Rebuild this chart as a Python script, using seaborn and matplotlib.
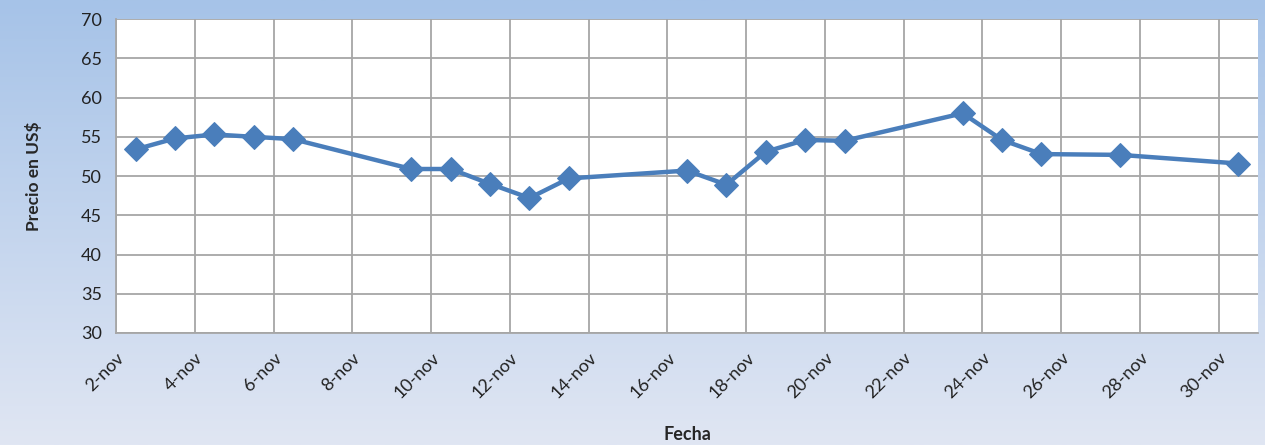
import numpy as np
import pandas as pd
import seaborn as sns
import matplotlib.pyplot as plt

# datos
fechas = ["2015-11-02", "2015-11-03", "2015-11-04", "2015-11-05", "2015-11-06",
          "2015-11-09", "2015-11-10", "2015-11-11", "2015-11-12", "2015-11-13",
          "2015-11-16", "2015-11-17", "2015-11-18", "2015-11-19", "2015-11-20",
          "2015-11-23", "2015-11-24", "2015-11-25", "2015-11-27", "2015-11-30"]
precios = [53.4, 54.8, 55.3, 55.0, 54.7,
           50.9, 50.9, 49.0, 47.2, 49.7,
           50.7, 48.9, 53.1, 54.6, 54.5,
           58.0, 54.6, 52.8, 52.7, 51.6]
tick_fechas = ["2015-11-%02d" % d for d in range(2, 31, 2)]
tick_labels = ["%d-nov" % d for d in range(2, 31, 2)]

df = pd.DataFrame({"Fecha": pd.to_datetime(fechas), "Precio": precios})
# Excel centra cada punto dentro de su dia
df["x"] = df["Fecha"] + pd.Timedelta(hours=12)

sns.set_style("white")
plt.rcParams["font.family"] = ["Lato", "DejaVu Sans"]

fig = plt.figure(figsize=(12.65, 4.45), dpi=100)

# fondo degradado
bg = fig.add_axes([0, 0, 1, 1], zorder=-1)
grad = np.linspace(0, 1, 256).reshape(-1, 1)
top = np.array([166, 195, 232]) / 255
bot = np.array([224, 230, 243]) / 255
img = top + (bot - top) * grad[..., None]
bg.imshow(img, aspect="auto", extent=[0, 1, 0, 1])
bg.axis("off")

ax = fig.add_axes([0.0917, 0.2517, 0.9028, 0.7053])
ax.set_facecolor("white")
sns.lineplot(data=df, x="x", y="Precio", ax=ax, color="#4a7ebb", linewidth=3.2,
             marker="D", markersize=12.5, markeredgecolor="#4a7ebb", zorder=3)

ax.set_ylim(30, 70)
ax.set_yticks(range(30, 71, 5))
ax.set_xlim(pd.Timestamp("2015-11-02"), pd.Timestamp("2015-12-01"))
ax.set_xticks(pd.to_datetime(tick_fechas))
ax.set_xticklabels(tick_labels, rotation=45, ha="right", rotation_mode="anchor")

ax.grid(True, color="#a6a6a6", linewidth=1.3)
ax.set_axisbelow(True)
for s in ["top", "right"]:
    ax.spines[s].set_visible(False)
for s in ["left", "bottom"]:
    ax.spines[s].set_color("#a6a6a6")
    ax.spines[s].set_linewidth(1.3)
ax.tick_params(axis="both", length=6, width=1.3, color="#a6a6a6",
               labelsize=13, labelcolor="#222222", pad=4)
ax.tick_params(axis="x", pad=6)

ax.set_xlabel("Fecha", fontsize=13, fontweight="bold", labelpad=18)
ax.set_ylabel("Precio en US$", fontsize=12.5, fontweight="bold", labelpad=28)

fig.savefig("out.png", dpi=100)
